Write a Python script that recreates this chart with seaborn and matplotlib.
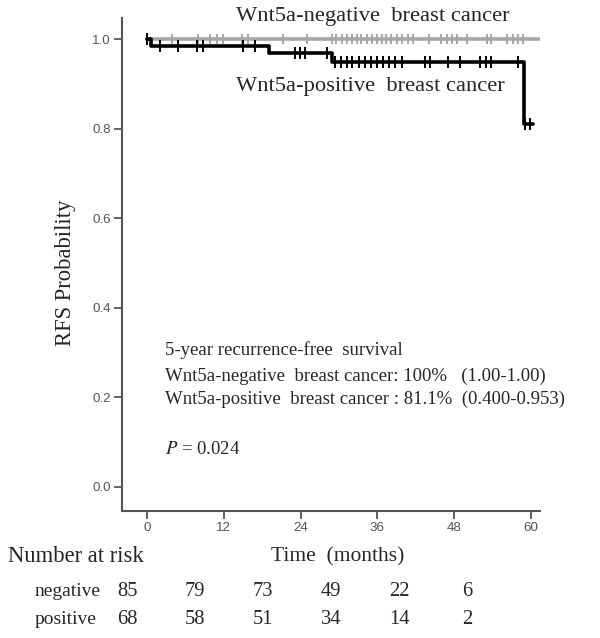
import numpy as np
import pandas as pd
import matplotlib
matplotlib.use("Agg")
import matplotlib.pyplot as plt
import seaborn as sns

# step curves (time in months, RFS probability)
neg_time = [0.0, 61.3]
neg_surv = [1.0, 1.0]
pos_time = [0.0, 0.7, 19.0, 28.9, 58.9, 60.3]
pos_surv = [1.0, 0.985, 0.969, 0.948, 0.811, 0.811]

# censored observations
neg_cens = [0.0, 3.9, 8.0, 9.8, 10.9, 11.9, 14.8, 15.8, 21.3, 25.0, 28.9, 29.6,
            30.4, 31.2, 32.0, 32.8, 33.5, 34.3, 35.1, 35.9, 36.7, 37.4, 38.2, 39.0,
            39.8, 40.8, 41.6, 44.0, 46.0, 46.8, 47.6, 48.4, 50.0, 53.1, 53.8, 56.2,
            57.2, 58.0, 58.8]
pos_cens = [0.0, 2.0, 4.9, 7.8, 8.8, 15.0, 16.9, 23.1, 23.9, 24.7, 28.1, 29.4,
            30.3, 31.2, 32.1, 33.1, 34.0, 35.0, 35.9, 36.8, 37.8, 38.75, 39.8, 43.4,
            44.2, 47.0, 48.9, 52.1, 53.0, 53.7, 58.0, 59.1, 59.8]

xticks = [0, 12, 24, 36, 48, 60]
yticks = [0.0, 0.2, 0.4, 0.6, 0.8, 1.0]
risk_neg = [85, 79, 73, 49, 22, 6]
risk_pos = [68, 58, 51, 34, 14, 2]

sns.set_style("ticks")
plt.rcParams['font.family'] = ['Liberation Serif', 'DejaVu Serif']
plt.rcParams['mathtext.fontset'] = 'stix'

W, H = 600, 638
fig = plt.figure(figsize=(6, 6.38), dpi=100)
ax = fig.add_axes([122 / W, 1 - 511 / H, 418 / W, 493 / H])


def surv_at(t, times, surv):
    idx = np.searchsorted(times, t, side='right') - 1
    return surv[max(idx, 0)]


neg_df = pd.DataFrame({'t': neg_time, 's': neg_surv})
pos_df = pd.DataFrame({'t': pos_time, 's': pos_surv})
sns.lineplot(data=neg_df, x='t', y='s', drawstyle='steps-post', color='#a6a6a6',
             lw=2.6, ax=ax, zorder=2)
sns.lineplot(data=pos_df, x='t', y='s', drawstyle='steps-post', color='black',
             lw=2.6, ax=ax, zorder=3)

neg_c = pd.DataFrame({'t': neg_cens, 's': [surv_at(t, neg_time, neg_surv) for t in neg_cens]})
pos_c = pd.DataFrame({'t': pos_cens, 's': [surv_at(t, pos_time, pos_surv) for t in pos_cens]})
sns.scatterplot(data=neg_c, x='t', y='s', marker='|', s=60, color='#a6a6a6',
                linewidth=1.4, ax=ax, zorder=2)
sns.scatterplot(data=pos_c, x='t', y='s', marker='|', s=70, color='black',
                linewidth=1.4, ax=ax, zorder=3)

ax.set_xlim(-3.9, 61.4)
ax.set_ylim(-0.054, 1.047)
ax.set_xticks(xticks)
ax.set_yticks(yticks)
ax.set_xticklabels([str(v) for v in xticks], family='Liberation Sans', fontsize=9.6, color='#555555')
ax.set_yticklabels(['%.1f' % v for v in yticks], family='Liberation Sans', fontsize=9.6, color='#555555')
ax.tick_params(length=6, width=1.3, color='#555555', pad=2)
ax.set_xlabel('')
ax.set_ylabel('')
for sp in ['top', 'right']:
    ax.spines[sp].set_visible(False)
for sp in ['left', 'bottom']:
    ax.spines[sp].set_color('#555555')
    ax.spines[sp].set_linewidth(1.5)


def ftext(x, y, s, **kw):
    fig.text(x / W, 1 - y / H, s, va='center', **kw)


ftext(236, 17, 'Wnt5a-negative  breast cancer', fontsize=16.2)
ftext(236, 87, 'Wnt5a-positive  breast cancer', fontsize=16.2)
ftext(66, 273, 'RFS Probability', fontsize=16.3, rotation=90, ha='center')

ftext(165, 350, '5-year recurrence-free  survival', fontsize=13.5)
ftext(165, 376, 'Wnt5a-negative  breast cancer: 100%   (1.00-1.00)', fontsize=13.5)
ftext(165, 399, 'Wnt5a-positive  breast cancer : 81.1%  (0.400-0.953)', fontsize=13.5)
ftext(165, 449, r'$P$ = 0.024', fontsize=13.5)

ftext(338, 557, 'Time  (months)', fontsize=15.5, ha='center')
ftext(8, 557, 'Number at risk', fontsize=16.3)
ftext(35, 592, 'negative', fontsize=14)
ftext(35, 619, 'positive', fontsize=14)
for i, (a, b) in enumerate(zip(risk_neg, risk_pos)):
    ftext(127 + 68 * i, 592, str(a), fontsize=14.8, ha='center')
    ftext(127 + 68 * i, 619, str(b), fontsize=14.8, ha='center')

fig.savefig('out.png', dpi=100)
